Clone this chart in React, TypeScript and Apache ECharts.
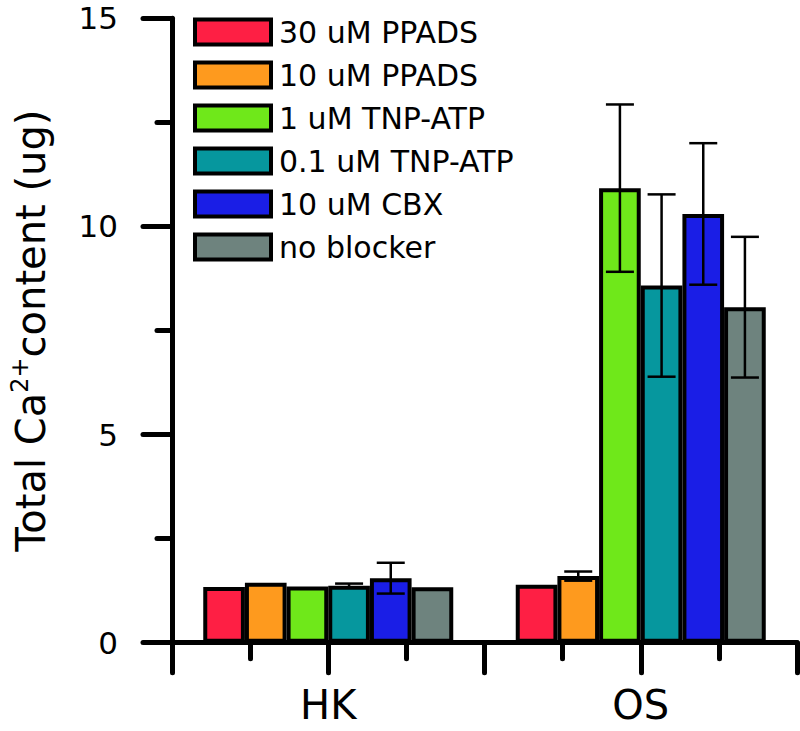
import React, { useEffect, useRef } from "react";
import * as echarts from "echarts";

const categories = ["HK", "OS"];
const seriesNames = ["30 uM PPADS", "10 uM PPADS", "1 uM TNP-ATP", "0.1 uM TNP-ATP", "10 uM CBX", "no blocker"];
const seriesColors = ["#FE1F44", "#FE9A1E", "#6FE81A", "#06979E", "#1A1EE6", "#6E837E"];
const ppads30 = [1.34, 1.39];
const ppads10 = [1.44, 1.6];
const tnp1 = [1.35, 10.92];
const tnp01 = [1.37, 8.58];
const cbx = [1.55, 10.3];
const noBlocker = [1.33, 8.06];
const ppads30Err = [0, 0];
const ppads10Err = [0, 0.11];
const tnp1Err = [0, 2.01];
const tnp01Err = [0.05, 2.19];
const cbxErr = [0.37, 1.7];
const noBlockerErr = [0, 1.69];
const yTicks = [0, 5, 10, 15];

const FONT = "DejaVu Sans";

export default function App() {
  const ref = useRef<HTMLDivElement>(null);
  useEffect(() => {
    if (!ref.current) return;
    const chart = echarts.init(ref.current, null, { renderer: "svg" });
    const values = [ppads30, ppads10, tnp1, tnp01, cbx, noBlocker];
    const errs = [ppads30Err, ppads10Err, tnp1Err, tnp01Err, cbxErr, noBlockerErr];
    const errData: number[][] = [];
    values.forEach((vals, si) => {
      vals.forEach((v, ci) => {
        const e = errs[si][ci];
        if (e > 0) errData.push([ci, v - e, v + e, si]);
      });
    });
    const lw = 5;
    const option: any = {
      animation: false,
      textStyle: { fontFamily: FONT },
      grid: { left: 172, right: 3, top: 18.3, bottom: 88.3 },
      legend: {
        orient: "vertical",
        left: 188,
        top: 12,
        itemWidth: 76,
        itemHeight: 25,
        itemGap: 13,
        icon: "rect",
        selectedMode: false,
        itemStyle: { borderColor: "#000", borderWidth: 4 },
        textStyle: { fontFamily: FONT, fontSize: 30, color: "#000", padding: [0, 0, 0, 3] },
        data: seriesNames,
      },
      xAxis: [
        {
          type: "category",
          data: categories,
          axisLine: { show: true, lineStyle: { color: "#000", width: lw } },
          axisTick: { show: false },
          axisLabel: { fontFamily: FONT, fontSize: 40, color: "#000", margin: 42 },
          splitLine: { show: false },
        },
        {
          type: "value",
          min: 0,
          max: 4,
          interval: 1,
          position: "bottom",
          offset: 0,
          axisLine: { show: false },
          axisTick: { show: true, length: 30, lineStyle: { color: "#000", width: lw, cap: "round" } },
          minorTick: { show: true, splitNumber: 2, length: 16, lineStyle: { color: "#000", width: lw, cap: "round" } },
          axisLabel: { show: false },
          splitLine: { show: false },
          minorSplitLine: { show: false },
        },
      ],
      yAxis: {
        type: "value",
        min: yTicks[0],
        max: yTicks[yTicks.length - 1],
        interval: 5,
        axisLine: { show: true, lineStyle: { color: "#000", width: lw, cap: "round" } },
        axisTick: { show: true, length: 29, lineStyle: { color: "#000", width: lw, cap: "round" } },
        minorTick: { show: true, splitNumber: 2, length: 15, lineStyle: { color: "#000", width: lw, cap: "round" } },
        axisLabel: { fontFamily: FONT, fontSize: 31, color: "#000", margin: 54 },
        splitLine: { show: false },
        name: "{a|Total Ca}{sup|2+}{a|content (ug)}",
        nameLocation: "middle",
        nameRotate: 90,
        nameGap: 118,
        nameTextStyle: {
          fontFamily: FONT,
          color: "#000",
          fontSize: 40,
          rich: {
            a: { fontFamily: FONT, fontSize: 40, color: "#000", lineHeight: 46 },
            sup: { fontFamily: FONT, fontSize: 24, color: "#000", verticalAlign: "top", lineHeight: 46 },
          },
        },
      },
      series: [
        ...seriesNames.map((name, si) => ({
          name,
          type: "bar",
          xAxisIndex: 0,
          yAxisIndex: 0,
          data: values[si],
          barGap: "0%",
          barCategoryGap: "20%",
          itemStyle: { color: seriesColors[si], borderColor: "#000", borderWidth: 4 },
          z: 2,
        })),
        {
          type: "custom",
          xAxisIndex: 0,
          yAxisIndex: 0,
          z: 5,
          data: errData,
          encode: { x: 0, y: [1, 2] },
          renderItem: (params: any, api: any) => {
            const cat = api.value(0);
            const low = api.value(1);
            const high = api.value(2);
            const si = api.value(3);
            const bandW = api.size([1, 0])[0];
            const barW = (bandW * 0.8) / 6;
            const pLow = api.coord([cat, low]);
            const pHigh = api.coord([cat, high]);
            const x = pLow[0] + (si - 2.5) * barW;
            const half = 14;
            const style = { stroke: "#000", lineWidth: 2.5 };
            return {
              type: "group",
              children: [
                { type: "line", shape: { x1: x, y1: pLow[1], x2: x, y2: pHigh[1] }, style },
                { type: "line", shape: { x1: x - half, y1: pLow[1], x2: x + half, y2: pLow[1] }, style },
                { type: "line", shape: { x1: x - half, y1: pHigh[1], x2: x + half, y2: pHigh[1] }, style },
              ],
            };
          },
        },
      ],
    };
    chart.setOption(option);
    return () => chart.dispose();
  }, []);
  return (
    <div
      ref={ref}
      style={{ position: "fixed", left: 0, top: 0, width: 800, height: 731, background: "#fff" }}
    />
  );
}
